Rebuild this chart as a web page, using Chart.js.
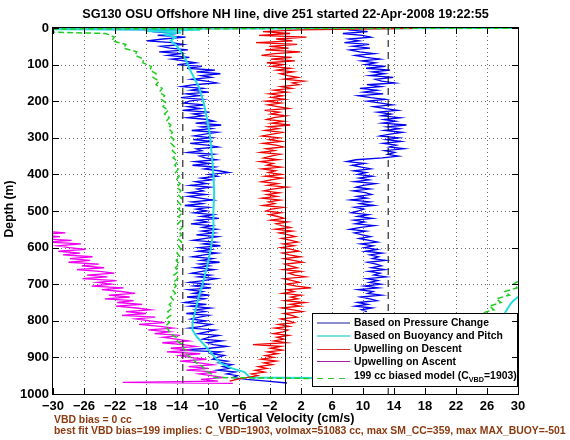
<!DOCTYPE html>
<html>
<head>
<meta charset="utf-8">
<title>SG130 dive 251 vertical velocity</title>
<script src="https://cdn.jsdelivr.net/npm/chart.js@4.4.1/dist/chart.umd.min.js"></script>
<style>
  html, body { margin: 0; padding: 0; background: #fff; }
  #wrap { width: 570px; height: 440px; }
</style>
</head>
<body>
<div id="wrap"><canvas id="velocityChart" width="570" height="440"></canvas></div>
<script>
// ---- axis ticks ----
const xTickValues = [-30, -26, -22, -18, -14, -10, -6, -2, 2, 6, 10, 14, 18, 22, 26, 30];
const yTickValues = [0, 100, 200, 300, 400, 500, 600, 700, 800, 900, 1000];

// ---- texts ----
const titleText = 'SG130 OSU Offshore NH line, dive 251 started 22-Apr-2008 19:22:55';
const xLabelText = 'Vertical Velocity (cm/s)';
const yLabelText = 'Depth (m)';
const noteLines = [
    'VBD bias = 0 cc',
    'best fit VBD bias=199 implies: C_VBD=1903, volmax=51083 cc, max SM_CC=359, max MAX_BUOY=-501'
];
const seriesNames = [
    'Based on Pressure Change',
    'Based on Buoyancy and Pitch',
    'Upwelling on Descent',
    'Upwelling on Ascent',
    '199 cc biased model (C'
];

// ---- reference lines (cm/s) ----
const zeroLine = 0;
const sinkLimits = [-13.25, 13.25];

// ---- profiles: one value every 5 m from the given start depth ----
const sampleStep = 5;

// pressure based w, descent (from 5 m)
const blueDescentStart = 5;
const blueDescent = [
    -13.8, -17.2, -14.1, -16.5, -12.9, -15.8, -17.9, -14.6, -13.2, -16.1,
    -14.9, -12.6, -16.3, -13.5, -15.2, -12.4, -14.7, -13.1, -11.6, -13.9,
    -10.8, -12.7, -9.1, -11.5, -8.4, -10.9, -9.6, -12.1, -10.2, -8.9,
    -11.8, -13.4, -10.6, -12.2, -9.9, -12.8, -11.1, -13.5, -10.7, -12.4,
    -13.1, -10.4, -12.6, -11.0, -13.3, -9.8, -11.9, -10.6, -12.7, -10.1,
    -9.2, -11.6, -8.3, -10.9, -9.5, -12.1, -8.8, -10.4, -11.8, -9.6,
    -11.9, -9.4, -12.3, -10.1, -8.7, -11.5, -10.8, -12.6, -9.3, -11.1,
    -10.4, -8.9, -11.7, -9.8, -12.0, -9.1, -10.5, -8.6, -7.3, -9.9,
    -8.8, -10.9, -9.5, -11.6, -10.2, -12.3, -9.7, -11.4, -10.6, -12.5,
    -10.3, -12.6, -11.0, -9.4, -12.1, -10.7, -13.0, -9.9, -11.5, -10.2,
    -11.8, -9.3, -10.9, -8.6, -11.4, -10.1, -12.2, -9.5, -10.7, -8.9,
    -10.8, -9.2, -11.5, -8.7, -10.3, -11.9, -9.0, -10.6, -8.4, -11.2,
    -9.6, -11.3, -8.8, -10.5, -12.0, -9.4, -10.9, -8.5, -11.1, -9.8,
    -11.6, -9.2, -10.8, -12.1, -9.7, -11.3, -8.9, -10.6, -12.4, -10.0,
    -11.8, -9.6, -12.5, -10.7, -11.9, -9.8, -12.7, -10.4, -11.5, -13.0,
    -10.2, -12.3, -9.7, -11.6, -10.4, -12.8, -9.9, -11.1, -12.2, -10.3,
    -11.7, -9.6, -10.8, -12.4, -9.1, -10.2, -11.3, -8.6, -9.9, -10.7,
    -8.2, -10.1, -9.3, -7.6, -9.8, -13.6, -8.4, -9.6, -7.9, -8.8,
    -9.4, -7.5, -8.6, -6.9, -8.1, -7.2, -8.8, -6.5, -7.6, -6.2,
    -6.8, -5.0, -2.4, 0.2
];
const blueDescentSurface = [[0.5, 45], [1.5, -45]];

// pressure based w, ascent (from 5 m, hidden below the legend further down)
const blueAscentStart = 5;
const blueAscent = [
    8.1, 10.6, 7.4, 9.9, 11.0, 8.2, 9.5, 7.6, 10.8, 8.7,
    10.9, 8.3, 9.6, 11.5, 9.0, 10.4, 12.2, 9.8, 11.6, 10.3,
    12.9, 10.4, 13.5, 11.2, 12.8, 10.9, 13.9, 11.6, 12.4, 14.1,
    10.5, 12.3, 9.6, 11.8, 10.1, 12.6, 9.4, 11.0, 12.9, 10.6,
    12.3, 13.8, 11.4, 12.9, 14.5, 11.9, 13.6, 12.4, 14.8, 12.7,
    14.2, 12.5, 15.6, 13.1, 14.7, 12.8, 15.1, 13.5, 12.2, 14.6,
    13.0, 14.9, 12.6, 14.3, 13.4, 15.3, 12.8, 14.1, 13.2, 14.6,
    12.5, 9.1, 7.9, 10.2, 8.6, 9.8, 11.0, 8.8, 10.4, 9.3,
    11.2, 9.5, 10.8, 8.9, 11.6, 10.0, 9.1, 10.9, 8.7, 10.3,
    11.1, 9.2, 10.5, 8.4, 10.9, 9.6, 11.4, 8.9, 10.1, 9.4,
    8.5, 10.7, 9.3, 11.2, 8.8, 10.2, 9.0, 11.5, 9.7, 8.3,
    10.4, 8.9, 9.9, 11.0, 9.5, 10.8, 11.9, 9.7, 11.3, 10.2,
    11.8, 10.3, 12.5, 10.9, 12.0, 11.2, 12.9, 10.6, 11.7, 12.4,
    11.1, 12.8, 10.7, 12.2, 11.4, 13.0, 10.5, 11.9, 10.8, 12.3,
    10.2, 12.0, 9.4, 11.3, 10.6, 12.4, 9.7, 10.9, 11.8, 9.3,
    10.6, 9.0, 11.2, 9.8, 10.5
];

// upwelling on descent (from 5 m)
const redStart = 5;
const redDescent = [
    1.8, -2.9, 0.6, -3.4, 2.7, -1.2, 0.9, -3.8, 1.5, -2.1,
    0.4, -2.6, 1.9, -1.4, -3.1, 0.8, -1.9, 1.2, -2.4, -0.3,
    -1.8, 0.6, -1.1, 1.0, -0.7, 0.3, 1.6, -0.2, 2.4, 0.9,
    1.7, -0.6, 0.8, -1.5, 0.2, -2.1, -0.4, -1.8, -0.1, -2.5,
    -0.6, -2.3, -1.0, 0.4, -2.7, -0.8, -1.9, 0.1, -1.5, -2.4,
    -0.2, -1.8, 0.6, -2.2, -0.9, -2.6, -0.4, -1.7, -3.0, -0.8,
    -2.1, -0.5, -2.9, -1.2, -0.3, -2.5, -1.4, -3.2, -0.7, -1.9,
    -2.8, -0.9, -3.3, -1.6, -2.4, -0.6, -3.0, -1.3, -2.2, -0.5,
    -2.6, -0.4, -1.9, -3.1, -1.0, -2.3, 0.2, -1.7, -2.8, -0.8,
    -2.4, -1.1, -3.0, -0.7, -2.2, -1.4, -2.9, -0.3, -1.8, -2.5,
    -0.6, -2.1, -1.0, -0.2, -1.9, 0.3, -1.2, -0.5, 0.6, -1.3,
    0.9, -0.8, 0.4, 1.3, -0.5, 0.7, 1.6, -0.3, 1.1, -0.6,
    0.8, 1.7, -0.4, 0.5, 1.9, -0.2, 1.0, 2.2, -0.1, 0.6,
    1.5, -0.3, 2.0, 0.4, 1.2, 2.6, -0.2, 0.9, 1.8, 0.1,
    1.4, 3.3, 0.2, 1.1, -0.4, 2.0, 0.7, 1.6, -0.1, 2.5,
    0.6, 1.9, -0.5, 1.0, 2.2, -0.2, 0.8, 1.5, -0.6, 0.4,
    1.1, -0.9, 0.5, -1.4, 0.3, -0.3, -1.6, 0.4, -1.1, -0.2,
    -1.5, 0.1, -4.2, -0.6, -1.9, -0.4, -2.3, -1.0, -2.6, -1.5,
    -3.1, -1.2, -2.8, -1.7, -3.5, -2.4, -3.9, -2.7, -4.4, -3.6,
    -5.0, -6.3, -7.2
];
const redSurface = [[1, 16.5]];

// upwelling on ascent (from 555 m)
const magentaStart = 555;
const magentaAscent = [
    -31.5, -28.4, -33.0, -29.1, -32.2, -27.6, -30.8, -26.4, -29.5, -27.9,
    -25.8, -29.3, -26.5, -28.7, -24.9, -27.8, -25.2, -28.0, -24.1, -26.3,
    -23.4, -26.9, -24.0, -22.1, -25.6, -23.0, -26.2, -21.8, -24.3, -22.5,
    -25.0, -20.9, -23.7, -21.2, -19.4, -22.8, -20.1, -23.3, -19.6, -21.7,
    -18.5, -21.9, -19.2, -17.4, -20.6, -18.0, -21.1, -16.8, -19.3, -17.5,
    -15.6, -18.9, -16.2, -14.5, -17.7, -15.0, -16.9, -13.6, -15.8, -14.1,
    -12.5, -15.9, -13.2, -11.6, -14.8, -12.1, -15.3, -11.0, -13.7, -12.4,
    -10.2, -13.6, -11.1, -9.4, -12.5, -10.0, -12.8, -8.9, -11.2, -9.6,
    -8.0, -10.9, -8.7
];
const magentaBottom = [[968, -21.0], [971, -6.8]];

// 199 cc biased model, descent (one value every 10 m from 15 m)
const greenStart = 15;
const greenStep = 10;
const greenDescent = [
    -23.2, -22.1, -22.4, -20.6, -20.9, -19.2, -19.4, -18.3, -18.4, -17.3,
    -17.5, -16.7, -17.1, -16.3, -16.7, -15.9, -16.3, -15.6, -16.0, -15.4,
    -15.8, -15.1, -15.6, -15.0, -15.4, -14.8, -15.1, -14.6, -14.9, -14.4,
    -14.8, -14.3, -14.6, -14.1, -14.5, -13.9, -14.3, -13.8, -14.2, -13.7,
    -14.1, -13.6, -14.0, -13.5, -13.9, -13.4, -13.9, -13.4, -13.8, -13.3,
    -13.8, -13.4, -13.9, -13.3, -13.8, -13.4, -13.9, -13.4, -13.8, -13.5,
    -14.0, -13.6, -14.1, -13.7, -14.2, -13.8, -14.4, -13.9, -14.5, -14.1,
    -14.6, -14.2, -14.8, -14.4, -15.0, -14.6, -15.2, -14.8, -15.4, -15.0,
    -15.5, -15.1, -14.9, -14.1, -14.0, -13.3, -13.2, -12.6, -12.6, -11.9,
    -11.5, -10.7, -10.4, -9.6, -9.2
];
const greenSurface = [[0, 45], [3, -45]];
const greenBottom = [[965, 40]];
// biased model on ascent, only the part that comes back inside +30
const greenAscent = [[680, 31.0], [690, 30.2], [700, 29.4], [710, 29.9], [720, 28.3], [730, 28.9],
    [740, 27.2], [750, 27.8], [760, 26.3], [770, 26.9], [780, 25.2], [790, 25.6]];

// buoyancy and pitch model (depth m, w cm/s)
const cyanDescent = [[0, 45], [2, -45], [5, -11.0], [8, -18.0], [12, -13.5], [18, -15.5], [25, -14.2],
    [35, -14.8], [50, -14.0], [70, -13.3], [90, -12.8], [115, -12.3], [140, -11.7], [160, -11.2],
    [200, -10.6], [250, -10.1], [300, -9.7], [350, -9.5], [400, -9.3], [450, -9.2], [500, -9.3],
    [550, -9.3], [600, -9.6], [650, -10.1], [700, -10.7], [735, -11.2], [770, -11.6], [805, -12.0],
    [825, -12.0], [845, -11.4], [870, -10.3], [895, -9.3], [916, -8.4], [930, -6.9], [940, -5.3],
    [955, -4.6], [962, 40]];
const cyanAscent = [[720, 31.2], [735, 30.0], [745, 29.4], [755, 29.0], [765, 28.7], [775, 28.4], [790, 28.1]];

// ---- styles ----
const fontFamily = "'Liberation Sans', Arial, Helvetica, sans-serif";
const colors = {
    blue: '#0000ee',
    cyan: '#22dde0',
    red: '#ee0000',
    magenta: '#ee00ee',
    green: '#22cc22',
    note: '#8c3a10'
};
const legendColors = ['#1c1c9e', '#4fd6d8', '#dc3030', '#a21fa8', '#3cc23c'];

function toPoints(values, start, step) {
    return values.map((v, i) => ({ x: v, y: start + i * step }));
}
function pairs(list) {
    return list.map(p => ({ x: p[1], y: p[0] }));
}
function vline(v) {
    return [{ x: v, y: 0 }, { x: v, y: 1000 }];
}
function lineSet(data, color, width, dash) {
    return {
        data: data,
        borderColor: color,
        borderWidth: width,
        borderDash: dash || [],
        showLine: true,
        pointRadius: 0,
        fill: false,
        tension: 0
    };
}
function fmt(v) {
    return String(v).replace('-', '\u2212');
}
function fitFont(ctx, text, width) {
    ctx.font = 'bold 100px ' + fontFamily;
    return 100 * width / ctx.measureText(text).width;
}

// ---- frame, legend and labels drawn like the original figure ----
const figurePlugin = {
    id: 'figure',
    beforeDatasetsDraw(chart) {
        const { ctx, chartArea: a, scales: { x, y } } = chart;
        ctx.save();
        ctx.strokeStyle = '#6a6a6a';
        ctx.lineWidth = 1;
        ctx.setLineDash([1, 3]);
        xTickValues.slice(1, -1).forEach(v => {
            const px = Math.round(x.getPixelForValue(v)) + 0.5;
            ctx.beginPath();
            ctx.moveTo(px, a.top);
            ctx.lineTo(px, a.bottom);
            ctx.stroke();
        });
        yTickValues.slice(1, -1).forEach(v => {
            const py = Math.round(y.getPixelForValue(v)) + 0.5;
            ctx.beginPath();
            ctx.moveTo(a.left, py);
            ctx.lineTo(a.right, py);
            ctx.stroke();
        });
        ctx.restore();
    },
    afterDatasetsDraw(chart) {
        const { ctx, chartArea: a, scales: { x, y } } = chart;
        ctx.save();

        // legend box
        const lx = 312, ly = 313, lw = 206, lh = 74;
        ctx.fillStyle = '#fff';
        ctx.fillRect(lx, ly, lw, lh);
        ctx.strokeStyle = '#000';
        ctx.lineWidth = 1;
        ctx.strokeRect(lx + 0.5, ly + 0.5, lw - 1, lh - 1);

        const legendSize = fitFont(ctx, seriesNames[0], 135);
        const rowY = [323, 336, 349.5, 362.5, 376.5];
        const lineY = [323, 336, 349.5, 361.5, 378.5];
        seriesNames.forEach((name, i) => {
            ctx.beginPath();
            ctx.strokeStyle = legendColors[i];
            ctx.lineWidth = i === 1 ? 1.5 : 1.2;
            ctx.setLineDash(i === 4 ? [6, 5] : []);
            ctx.moveTo(317, lineY[i]);
            ctx.lineTo(350, lineY[i]);
            ctx.stroke();
            ctx.setLineDash([]);

            ctx.fillStyle = '#000';
            ctx.textBaseline = 'middle';
            ctx.textAlign = 'left';
            ctx.font = 'bold ' + legendSize + 'px ' + fontFamily;
            ctx.fillText(name, 354, rowY[i]);
            if (i === 4) {
                let tx = 354 + ctx.measureText(name).width;
                ctx.font = 'bold ' + (legendSize * 0.7) + 'px ' + fontFamily;
                ctx.fillText('VBD', tx, rowY[i] + 3.5);
                tx += ctx.measureText('VBD').width;
                ctx.font = 'bold ' + legendSize + 'px ' + fontFamily;
                ctx.fillText('=1903)', tx, rowY[i]);
            }
        });

        // axes box with inward ticks
        ctx.strokeStyle = '#000';
        ctx.lineWidth = 1;
        ctx.strokeRect(a.left - 0.5, a.top - 0.5, a.width + 1, a.height + 1);
        const tick = 6;
        ctx.beginPath();
        xTickValues.forEach(v => {
            const px = Math.round(x.getPixelForValue(v)) + 0.5;
            ctx.moveTo(px, a.bottom);
            ctx.lineTo(px, a.bottom - tick);
            ctx.moveTo(px, a.top);
            ctx.lineTo(px, a.top + tick);
        });
        yTickValues.forEach(v => {
            const py = Math.round(y.getPixelForValue(v)) + 0.5;
            ctx.moveTo(a.left, py);
            ctx.lineTo(a.left + tick, py);
            ctx.moveTo(a.right, py);
            ctx.lineTo(a.right - tick, py);
        });
        ctx.stroke();
        ctx.restore();
    },
    afterDraw(chart) {
        const { ctx } = chart;
        ctx.save();
        ctx.fillStyle = '#000';
        ctx.textBaseline = 'middle';

        // title
        ctx.textAlign = 'center';
        ctx.font = 'bold ' + fitFont(ctx, titleText, 407) + 'px ' + fontFamily;
        ctx.fillText(titleText, 285.5, 14);

        // x label
        ctx.font = 'bold ' + fitFont(ctx, xLabelText, 137) + 'px ' + fontFamily;
        ctx.fillText(xLabelText, 286, 418.5);

        // y label
        ctx.save();
        ctx.translate(10, 209);
        ctx.rotate(-Math.PI / 2);
        ctx.font = 'bold ' + fitFont(ctx, yLabelText, 57) + 'px ' + fontFamily;
        ctx.fillText(yLabelText, 0, 0);
        ctx.restore();

        // notes under the axis
        ctx.textAlign = 'left';
        ctx.fillStyle = colors.note;
        ctx.font = 'bold ' + fitFont(ctx, noteLines[1], 512) + 'px ' + fontFamily;
        ctx.fillText(noteLines[0], 54, 420.5);
        ctx.fillText(noteLines[1], 54, 431.5);
        ctx.restore();
    }
};

const datasets = [
    // first in the list is drawn last (on top)
    lineSet(vline(zeroLine), '#000', 1),
    lineSet(vline(sinkLimits[0]), '#000', 1, [7, 5]),
    lineSet(vline(sinkLimits[1]), '#000', 1, [7, 5]),
    lineSet(pairs(greenSurface).concat(toPoints(greenDescent, greenStart, greenStep), pairs(greenBottom)),
        colors.green, 1.5, [6, 3]),
    lineSet(pairs(greenAscent), colors.green, 1.5, [6, 3]),
    lineSet(toPoints(magentaAscent, magentaStart, sampleStep).concat(pairs(magentaBottom)), colors.magenta, 1.3),
    lineSet(pairs(redSurface).concat(toPoints(redDescent, redStart, sampleStep)), colors.red, 1.3),
    lineSet(pairs(cyanDescent), colors.cyan, 2),
    lineSet(pairs(cyanAscent), colors.cyan, 2),
    lineSet(toPoints(blueAscent, blueAscentStart, sampleStep), colors.blue, 1.3),
    lineSet(pairs(blueDescentSurface).concat(toPoints(blueDescent, blueDescentStart, sampleStep)), colors.blue, 1.3)
];

const tickFont = { family: fontFamily, size: 13, weight: 'bold' };

new Chart(document.getElementById('velocityChart'), {
    type: 'scatter',
    data: { datasets: datasets },
    options: {
        responsive: false,
        animation: false,
        devicePixelRatio: 1,
        layout: { padding: { top: 28, right: 52, left: 0, bottom: 0 } },
        plugins: {
            legend: { display: false },
            tooltip: { enabled: false }
        },
        scales: {
            x: {
                type: 'linear',
                min: -30,
                max: 30,
                afterBuildTicks: s => { s.ticks = xTickValues.map(v => ({ value: v })); },
                afterFit: s => { s.height = 46; },
                grid: { display: false, drawTicks: false },
                border: { display: false },
                ticks: { font: tickFont, color: '#000', padding: 5, autoSkip: false, maxRotation: 0, callback: v => fmt(v) }
            },
            y: {
                type: 'linear',
                reverse: true,
                min: 0,
                max: 1000,
                afterBuildTicks: s => { s.ticks = yTickValues.map(v => ({ value: v })); },
                afterFit: s => { s.width = 53; },
                grid: { display: false, drawTicks: false },
                border: { display: false },
                ticks: { font: tickFont, color: '#000', padding: 4, autoSkip: false, callback: v => fmt(v) }
            }
        }
    },
    plugins: [figurePlugin]
});
</script>
</body>
</html>
